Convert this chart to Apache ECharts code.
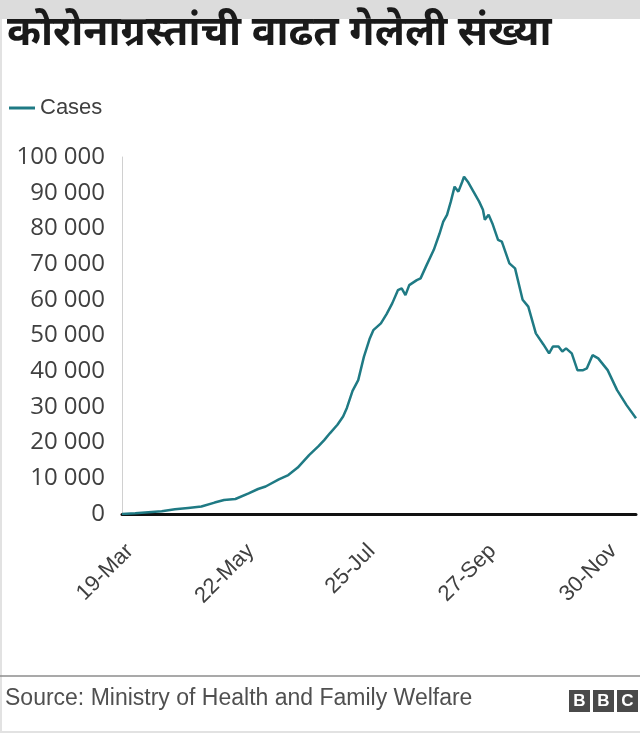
<!DOCTYPE html>
<html>
<head>
<meta charset="utf-8">
<script src="https://cdn.jsdelivr.net/npm/echarts@6/dist/echarts.min.js"></script>
<style>
  html, body { margin: 0; padding: 0; background: #fff; }
  #chart { width: 640px; height: 734px; }
</style>
</head>
<body>
<div id="chart"></div>
<script>
// days counted from 19-Mar, values = daily cases
var days = [0, 7, 14, 21, 28, 35, 42, 49, 54, 60, 67, 72, 76, 83, 88, 93, 99, 104, 107, 110,
  114, 117, 119, 122, 125, 128, 131, 133, 137, 140, 143, 146, 148, 150, 152, 156, 158, 161,
  165, 168, 170, 172, 174, 176, 178, 180, 181, 183, 186, 189, 191, 192, 194, 196, 199, 201,
  205, 208, 212, 215, 219, 223, 226, 228, 231, 233, 235, 238, 241, 244, 246, 249, 252, 257,
  262, 267, 272];
var cases = [0, 200, 500, 800, 1300, 1700, 2100, 3200, 3900, 4200, 5800, 7000, 7700, 9700,
  10900, 13000, 16500, 19000, 20700, 22600, 25000, 27300, 29700, 34500, 37500, 44000, 49000,
  51500, 53400, 56000, 59000, 62700, 63200, 61300, 64100, 65500, 66000, 69500, 74000, 78500,
  81900, 83800, 87500, 91700, 90300, 93000, 94500, 93100, 90300, 87500, 85200, 82400, 83800,
  81400, 76800, 76300, 70200, 68800, 60000, 58100, 50600, 47500, 45000, 46900, 46900, 45500,
  46400, 45000, 40300, 40300, 40800, 44500, 43600, 40300, 34700, 30500, 26800];
var yTicks = [0, 10000, 20000, 30000, 40000, 50000, 60000, 70000, 80000, 90000, 100000];
var months = ["Jan", "Feb", "Mar", "Apr", "May", "Jun", "Jul", "Aug", "Sep", "Oct", "Nov", "Dec"];

var points = days.map(function (d, i) { return [d, cases[i]]; });

function dayLabel(d) {
  var dt = new Date(2020, 2, 19 + d);
  return dt.getDate() + "-" + months[dt.getMonth()];
}

var chart = echarts.init(document.getElementById("chart"));
var option = {
  animation: false,
  title: {
    text: "कोरोनाग्रस्तांची वाढत गेलेली संख्या",
    left: 2,
    top: 8,
    textStyle: { fontSize: 41, fontWeight: "bold", color: "#1a1a1a", fontFamily: "Noto Sans, sans-serif" }
  },
  legend: {
    data: ["Cases"],
    left: 4,
    top: 92,
    icon: "rect",
    itemWidth: 26,
    itemHeight: 3,
    itemGap: 10,
    textStyle: { fontSize: 22, color: "#404040", fontFamily: "Liberation Sans" }
  },
  grid: { left: 122, right: 4, top: 157, bottom: 220 },
  xAxis: {
    type: "value",
    min: 0,
    max: 272,
    interval: 64,
    axisLine: { show: true, onZero: false, lineStyle: { color: "#111", width: 3 } },
    axisTick: { show: false },
    splitLine: { show: false },
    axisLabel: {
      rotate: 45,
      margin: 26,
      fontSize: 22,
      color: "#404040",
      fontFamily: "Liberation Sans",
      verticalAlign: "top",
      showMaxLabel: false,
      formatter: function (v) { return dayLabel(v); }
    }
  },
  yAxis: {
    type: "value",
    min: yTicks[0],
    max: yTicks[yTicks.length - 1],
    interval: 10000,
    axisLine: { show: true, lineStyle: { color: "#d0d0d0", width: 1 } },
    axisTick: { show: false },
    splitLine: { show: false },
    axisLabel: {
      margin: 17,
      fontSize: 24,
      color: "#404040",
      fontFamily: "Open Sans",
      formatter: function (v) { return String(v).replace(/\B(?=(\d{3})+(?!\d))/g, " "); }
    }
  },
  series: [{
    name: "Cases",
    type: "line",
    data: points,
    showSymbol: false,
    smooth: false,
    lineStyle: { color: "#1f7a84", width: 2.5 },
    itemStyle: { color: "#1f7a84" }
  }],
  graphic: [
    { type: "rect", z: -1, shape: { x: 0, y: 0, width: 640, height: 19 }, style: { fill: "#dcdcdc" } },
    { type: "line", shape: { x1: 1, y1: 19, x2: 1, y2: 733 }, style: { stroke: "#e2e2e2", lineWidth: 2 } },
    { type: "line", shape: { x1: 0, y1: 676, x2: 640, y2: 676 }, style: { stroke: "#8c8c8c", lineWidth: 1.5 } },
    { type: "line", shape: { x1: 0, y1: 732, x2: 640, y2: 732 }, style: { stroke: "#e2e2e2", lineWidth: 2 } },
    { type: "text", left: 5, top: 687, style: { text: "Source: Ministry of Health and Family Welfare", fontSize: 23, fill: "#505050", fontFamily: "Liberation Sans" } },
    { type: "rect", shape: { x: 569, y: 690, width: 21, height: 22 }, style: { fill: "#4a4a4a" } },
    { type: "rect", shape: { x: 593, y: 690, width: 21, height: 22 }, style: { fill: "#4a4a4a" } },
    { type: "rect", shape: { x: 617, y: 690, width: 21, height: 22 }, style: { fill: "#4a4a4a" } },
    { type: "text", x: 579.5, y: 701, style: { text: "B", fontSize: 17, fontWeight: "bold", fill: "#fff", align: "center", verticalAlign: "middle", fontFamily: "Liberation Sans" } },
    { type: "text", x: 603.5, y: 701, style: { text: "B", fontSize: 17, fontWeight: "bold", fill: "#fff", align: "center", verticalAlign: "middle", fontFamily: "Liberation Sans" } },
    { type: "text", x: 627.5, y: 701, style: { text: "C", fontSize: 17, fontWeight: "bold", fill: "#fff", align: "center", verticalAlign: "middle", fontFamily: "Liberation Sans" } }
  ]
};
chart.setOption(option);
</script>
</body>
</html>
